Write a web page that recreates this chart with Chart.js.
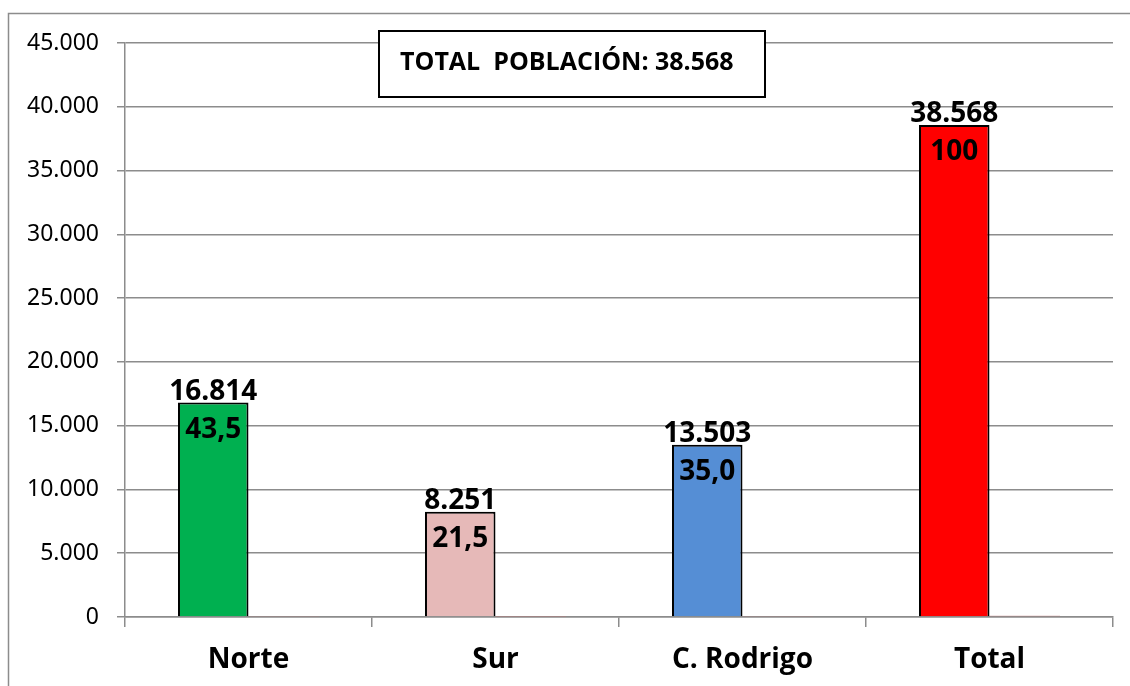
<!DOCTYPE html>
<html>
<head>
<meta charset="utf-8">
<script src="https://cdn.jsdelivr.net/npm/chart.js@4.4.1/dist/chart.umd.min.js"></script>
<style>
  html, body { margin: 0; padding: 0; background: #fff; overflow: hidden; }
  #wrap { width: 1130px; height: 686px; position: relative; }
  canvas { display: block; }
</style>
</head>
<body>
<div id="wrap"><canvas id="chart"></canvas></div>
<script>
// data
const categories = ['Norte', 'Sur', 'C. Rodrigo', 'Total'];
const population = [16814, 8251, 13503, 38568];
const percentages = [43.5, 21.5, 35.0, 100];
const barColors = ['#00B050', '#E6B9B8', '#558ED5', '#FF0000'];
const titleText = 'TOTAL  POBLACIÓN: 38.568';

// 38568 -> "38.568"
function formatThousands(v) {
    return String(v).replace(/\B(?=(\d{3})+(?!\d))/g, '.');
}
// 43.5 -> "43,5", 100 -> "100"
function formatPercent(v) {
    return v === 100 ? '100' : v.toFixed(1).replace('.', ',');
}

const boldFamily = '"Open Sans", Lato, sans-serif';
const boldFont = 'bold 28px ' + boldFamily;

// outer frame and the title box
const framePlugin = {
    id: 'frame',
    beforeDraw(chart) {
        const ctx = chart.ctx;
        ctx.save();
        ctx.strokeStyle = '#8c8c8c';
        ctx.lineWidth = 1.5;
        ctx.strokeRect(8.5, 13.5, 1300, 1000);
        ctx.restore();
    },
    afterDraw(chart) {
        const ctx = chart.ctx;
        ctx.save();
        ctx.fillStyle = '#fff';
        ctx.fillRect(379, 31, 386, 66);
        ctx.strokeStyle = '#000';
        ctx.lineWidth = 2;
        ctx.strokeRect(379, 31, 386, 66);
        ctx.fillStyle = '#000';
        ctx.font = 'bold 25px ' + boldFamily;
        ctx.textBaseline = 'middle';
        ctx.fillText(titleText, 400, 63);
        ctx.restore();
    }
};

// value above each bar, percentage inside it
const labelPlugin = {
    id: 'barLabels',
    afterDatasetsDraw(chart) {
        const ctx = chart.ctx;
        const meta = chart.getDatasetMeta(0);
        ctx.save();
        ctx.fillStyle = '#000';
        ctx.font = boldFont;
        ctx.textAlign = 'center';
        ctx.textBaseline = 'alphabetic';
        meta.data.forEach((bar, i) => {
            ctx.fillText(formatThousands(population[i]), bar.x, bar.y - 3);
            ctx.fillText(formatPercent(percentages[i]), bar.x, bar.y + 35);
        });
        ctx.restore();
    }
};

const ctx = document.getElementById('chart').getContext('2d');
new Chart(ctx, {
    type: 'bar',
    data: {
        labels: categories,
        datasets: [
            {
                label: 'Población',
                data: population,
                backgroundColor: barColors,
                borderColor: '#000',
                borderWidth: 2,
                barPercentage: 1,
                categoryPercentage: 0.571
            },
            {
                label: '%',
                data: percentages,
                backgroundColor: 'rgba(192, 120, 120, 0.7)',
                borderWidth: 0,
                barPercentage: 1,
                categoryPercentage: 0.571
            }
        ]
    },
    options: {
        responsive: true,
        maintainAspectRatio: false,
        animation: false,
        layout: { padding: { left: 0, right: 17, top: 43, bottom: 0 } },
        plugins: {
            legend: { display: false },
            tooltip: { enabled: false }
        },
        scales: {
            x: {
                afterFit(scale) { scale.height = 69; },
                grid: {
                    offset: true,
                    drawOnChartArea: false,
                    drawTicks: true,
                    tickLength: 10,
                    color: '#8c8c8c',
                    lineWidth: 1.5
                },
                border: { color: '#8c8c8c', width: 1.5 },
                ticks: {
                    color: '#000',
                    padding: 16,
                    font: { family: boldFamily, size: 28, weight: 'bold' }
                }
            },
            y: {
                min: 0,
                max: 45000,
                afterFit(scale) { scale.width = 125; },
                grid: {
                    color: '#8c8c8c',
                    lineWidth: 1.5,
                    tickLength: 8
                },
                border: { color: '#8c8c8c', width: 1.5 },
                ticks: {
                    stepSize: 5000,
                    color: '#000',
                    padding: 18,
                    font: { family: '"Noto Sans", sans-serif', size: 23 },
                    callback: (v) => formatThousands(v)
                }
            }
        }
    },
    plugins: [framePlugin, labelPlugin]
});
</script>
</body>
</html>
